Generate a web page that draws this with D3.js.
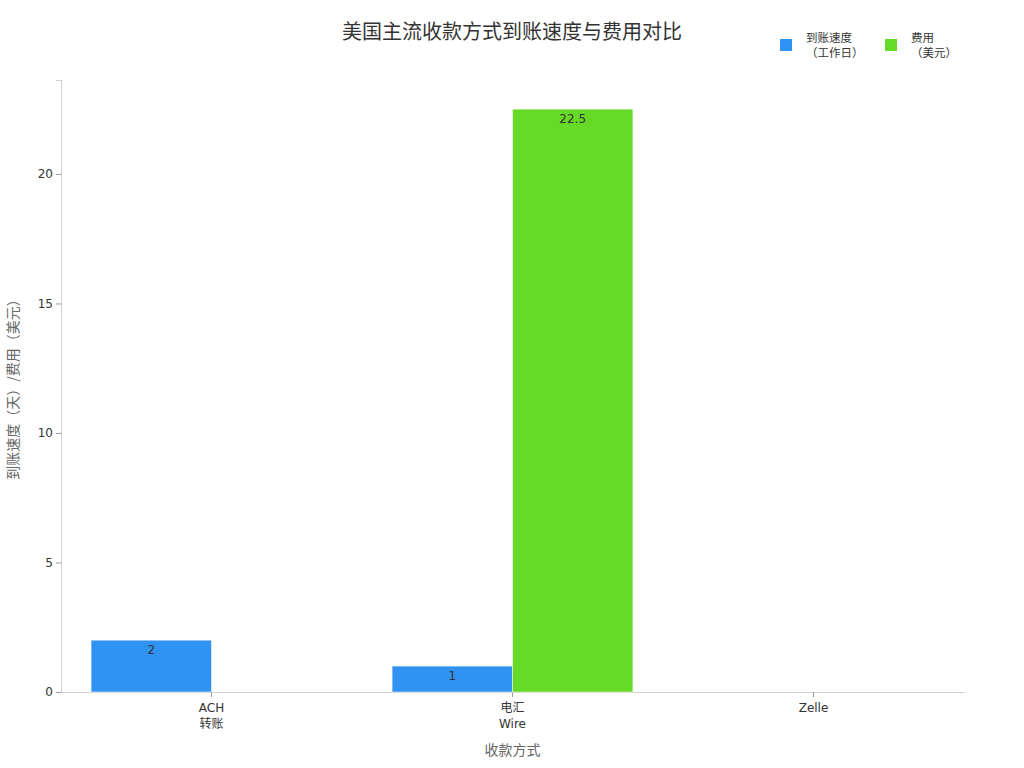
<!DOCTYPE html>
<html>
<head>
<meta charset="utf-8">
<script src="https://cdn.jsdelivr.net/npm/d3@7"></script>
<style>
  body { margin: 0; background: #fff; font-family: "Noto Sans CJK SC", "DejaVu Sans", sans-serif; }
</style>
</head>
<body>
<div id="chart"></div>
<script>
// categories (two-line labels) and values
var categories = ["ACH\n转账", "电汇\nWire", "Zelle"];
var speedDays = [2, 1, 0];
var feeUsd = [0, 22.5, 0];
var seriesNames = ["到账速度\n（工作日）", "费用\n（美元）"];
var seriesColors = ["#3092f2", "#67da27"];
var yTicks = [0, 5, 10, 15, 20];

var W = 1024, H = 768;
var margin = {top: 80, right: 60, bottom: 76, left: 61},
    width = W - margin.left - margin.right,
    height = H - margin.top - margin.bottom;

var svg = d3.select("#chart")
  .append("svg")
    .attr("width", W)
    .attr("height", H);

var g = svg.append("g")
    .attr("transform", "translate(" + margin.left + "," + margin.top + ")");

var x = d3.scaleBand()
  .domain(categories)
  .range([0, width])
  .padding(0);

var xSub = d3.scaleBand()
  .domain([0, 1])
  .range([x.bandwidth() * 0.1, x.bandwidth() * 0.9]);

var y = d3.scaleLinear()
  .domain([0, d3.max(feeUsd.concat(speedDays)) * 1.05])
  .range([height, 0]);

// axes
var yAxis = g.append("g")
  .call(d3.axisLeft(y).tickValues(yTicks).tickSize(5).tickPadding(3));
yAxis.select(".domain").attr("stroke", "#d0d0d0");
yAxis.selectAll(".tick line").attr("stroke", "#999");
yAxis.selectAll(".tick text").attr("fill", "#333").attr("font-size", 12)
  .attr("font-family", "'DejaVu Sans', sans-serif");

var xAxis = g.append("g")
  .attr("transform", "translate(0," + height + ")")
  .call(d3.axisBottom(x).tickSize(5).tickSizeOuter(0).tickPadding(6));
xAxis.select(".domain").attr("stroke", "#d0d0d0");
xAxis.selectAll(".tick line").attr("stroke", "#999");
xAxis.selectAll(".tick text").each(function(d) {
  var t = d3.select(this).text(null).attr("fill", "#333").attr("font-size", 12)
    .attr("font-family", "'DejaVu Sans', 'Noto Sans CJK SC', sans-serif");
  d.split("\n").forEach(function(line, i) {
    t.append("tspan").attr("x", 0).attr("dy", i === 0 ? "0.71em" : "1.35em").text(line);
  });
});

// bars
var rows = categories.map(function(c, i) { return {cat: c, vals: [speedDays[i], feeUsd[i]]}; });
var grp = g.selectAll(".grp")
  .data(rows)
  .enter().append("g")
    .attr("transform", function(d) { return "translate(" + x(d.cat) + ",0)"; });

var bars = grp.selectAll("g.bar")
  .data(function(d) { return d.vals.map(function(v, k) { return {k: k, v: v}; }); })
  .enter().append("g").attr("class", "bar");

bars.filter(function(d) { return d.v > 0; }).append("rect")
  .attr("x", function(d) { return xSub(d.k); })
  .attr("y", function(d) { return y(d.v); })
  .attr("width", xSub.bandwidth())
  .attr("height", function(d) { return height - y(d.v); })
  .attr("fill", function(d) { return seriesColors[d.k]; })
  .attr("stroke", "#ffffff")
  .attr("stroke-opacity", 0.5)
  .attr("stroke-width", 1);

bars.filter(function(d) { return d.v > 0; }).append("text")
  .attr("x", function(d) { return xSub(d.k) + xSub.bandwidth() / 2; })
  .attr("y", function(d) { return y(d.v) + 14; })
  .attr("text-anchor", "middle")
  .attr("font-size", 12)
  .attr("font-family", "'DejaVu Sans', sans-serif")
  .attr("fill", "#333")
  .text(function(d) { return d.v; });

// title
svg.append("text")
  .attr("x", 512).attr("y", 39)
  .attr("text-anchor", "middle")
  .attr("font-size", 20)
  .attr("fill", "#333")
  .text("美国主流收款方式到账速度与费用对比");

// axis titles
svg.append("text")
  .attr("x", margin.left + width / 2).attr("y", 755)
  .attr("text-anchor", "middle")
  .attr("font-size", 14)
  .attr("fill", "#666")
  .text("收款方式");

svg.append("text")
  .attr("transform", "translate(18," + (margin.top + height / 2) + ") rotate(-90)")
  .attr("text-anchor", "middle")
  .attr("font-size", 14)
  .attr("fill", "#666")
  .text("到账速度（天）/费用（美元）");

// legend
var legend = svg.append("g").attr("transform", "translate(780,39)");
var li = legend.selectAll("g")
  .data(seriesNames)
  .enter().append("g")
    .attr("transform", function(d, i) { return "translate(" + (i * 105) + ",0)"; });
li.append("rect")
  .attr("width", 12).attr("height", 12)
  .attr("fill", function(d, i) { return seriesColors[i]; });
li.each(function(d) {
  var item = d3.select(this);
  d.split("\n").forEach(function(line, i) {
    item.append("text")
      .attr("x", 26).attr("y", 3 + i * 14.5)
      .attr("font-size", 11.5)
      .attr("fill", "#333")
      .text(line);
  });
});
</script>
</body>
</html>
